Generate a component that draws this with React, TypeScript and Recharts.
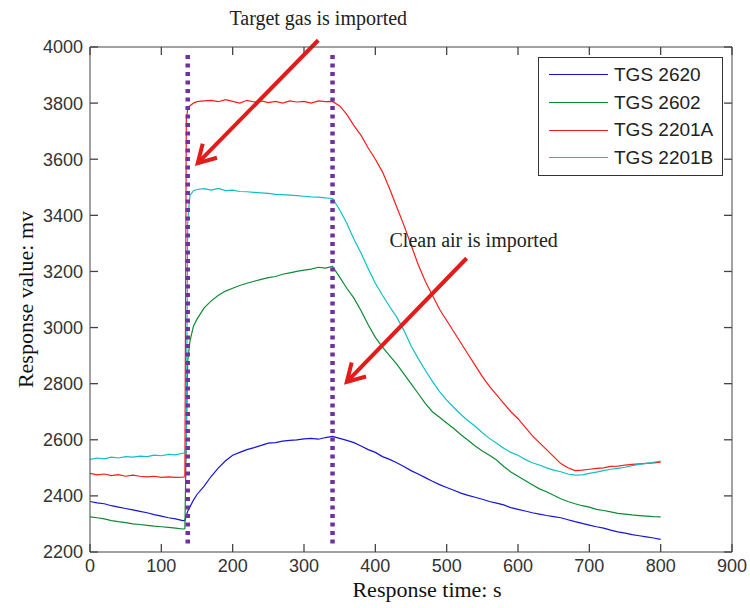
import { LineChart, Line, XAxis, YAxis, ReferenceLine } from "recharts";

// sampling times (s)
const times = [
  0, 10, 20, 30, 40, 50, 60, 70, 80, 90, 100, 110, 120, 130,
  133, 135, 137, 140, 145,
  150, 160, 170, 180, 190, 200, 210, 220, 230, 240,
  250, 260, 270, 280, 290, 300, 310, 320, 330, 340,
  350, 360, 370, 380, 390, 400, 410, 420, 430, 440,
  450, 460, 470, 480, 490, 500, 510, 520, 530, 540,
  550, 560, 570, 580, 590, 600, 610, 620, 630, 640,
  650, 660, 670, 680, 690, 700, 710, 720, 730, 740,
  750, 760, 770, 780, 790, 800,
];

// response values (mV)
const tgs2620 = [
  2380, 2375, 2372, 2365, 2360, 2355, 2350, 2345, 2340, 2333, 2328, 2322, 2318, 2312,
  2312, 2330, 2345, 2360, 2385,
  2405, 2435, 2470, 2500, 2525, 2545, 2555, 2565, 2572, 2580,
  2588, 2590, 2595, 2598, 2600, 2603, 2605, 2602, 2608, 2612,
  2605, 2598, 2590, 2578, 2565, 2555, 2540, 2530, 2518, 2505,
  2490, 2478, 2465, 2452, 2440, 2430, 2420, 2410, 2402, 2395,
  2388, 2380, 2374, 2368, 2358, 2352, 2346, 2340, 2335, 2330,
  2326, 2322, 2315, 2308, 2302, 2296, 2290, 2285, 2278, 2272,
  2267, 2262, 2258, 2254, 2250, 2245,
];

const tgs2602 = [
  2325, 2322, 2318, 2312, 2308, 2305, 2300, 2298, 2295, 2292, 2290, 2288, 2285, 2282,
  2283, 2600, 2880, 2950, 3005,
  3030, 3070, 3095, 3115, 3130, 3140, 3150, 3158, 3165, 3172,
  3178, 3182, 3190, 3195, 3200, 3205, 3208, 3215, 3212, 3218,
  3180, 3140, 3105, 3060, 3010, 2965, 2930, 2900, 2870, 2835,
  2800, 2765, 2730, 2700, 2680, 2660, 2640, 2618, 2598, 2578,
  2560, 2545, 2528, 2505, 2485, 2470, 2455, 2440, 2425, 2415,
  2402, 2390, 2380, 2372, 2365, 2360, 2352, 2348, 2343, 2338,
  2335, 2332, 2330, 2328, 2326, 2325,
];

const tgs2201A = [
  2480, 2475, 2478, 2472, 2476, 2470, 2474, 2470, 2468, 2470, 2466, 2468, 2466, 2467,
  2468, 3740, 3778, 3790, 3800,
  3805, 3808, 3810, 3805, 3812, 3806, 3800, 3810, 3804, 3808,
  3802, 3806, 3800, 3808, 3804, 3806, 3800, 3808, 3805, 3806,
  3790, 3760, 3720, 3685, 3640, 3600, 3555, 3495, 3430, 3365,
  3295, 3225, 3165, 3115, 3065, 3025, 2985, 2945, 2905, 2865,
  2825, 2790, 2760, 2730, 2700, 2675, 2645, 2615, 2590, 2565,
  2540, 2515, 2500, 2490, 2492, 2495, 2498, 2500, 2505, 2506,
  2510, 2512, 2514, 2516, 2518, 2520,
];

const tgs2201B = [
  2530, 2535, 2532, 2538, 2535, 2540, 2538, 2542, 2540, 2545, 2543, 2548, 2546, 2552,
  2553, 2600, 3380, 3470, 3488,
  3492, 3495, 3490, 3496, 3488, 3490, 3485, 3484, 3482, 3480,
  3478, 3475, 3474, 3472, 3470, 3468, 3466, 3465, 3462, 3460,
  3420, 3372, 3315, 3265, 3210, 3158, 3115, 3075, 3037, 2990,
  2935, 2890, 2848, 2808, 2772, 2741, 2715, 2690, 2668, 2648,
  2625, 2605, 2588, 2570, 2555, 2545, 2530, 2518, 2510, 2500,
  2492, 2486, 2478, 2474, 2475, 2480, 2485, 2490, 2495, 2498,
  2502, 2508, 2512, 2516, 2520, 2524,
];

const seriesNames = ["TGS 2620", "TGS 2602", "TGS 2201A", "TGS 2201B"];
const seriesValues = [tgs2620, tgs2602, tgs2201A, tgs2201B];
const seriesColors = ["#1414dc", "#0e8a34", "#ff1a1a", "#10bfc4"];

const xTicks = [0, 100, 200, 300, 400, 500, 600, 700, 800, 900];
const yTicks = [2200, 2400, 2600, 2800, 3000, 3200, 3400, 3600, 3800, 4000];

// gas switching moments (s) and the span of the dotted markers (mV)
const switchTimes = [137, 340];
const switchSpan = [2230, 3975];

// annotations: text, arrow tail and arrow head in data units
const noteTexts = ["Target gas is imported", "Clean air is imported"];
const noteFrom = [
  [320, 4024],
  [528, 3247],
];
const noteTo = [
  [151, 3586],
  [360, 2806],
];
const noteTextOffset = [
  [0, -15],
  [7, -11],
];

const tableData = times.map((t, i) => {
  const row: Record<string, number> = { t };
  seriesValues.forEach((vals, k) => {
    row[`s${k}`] = vals[i];
  });
  return row;
});

const sans = "'Liberation Sans', Arial, sans-serif";
const serif = "'Liberation Serif', 'Times New Roman', serif";
const axisColor = "#444";
const tickLen = 8;

// MATLAB-style inward ticks on both ends of each tick position
function HTicks(props: any) {
  const { x1, y1, x2, y2 } = props;
  return (
    <g>
      <line x1={x1} x2={x1 + tickLen} y1={y1} y2={y1} stroke={axisColor} strokeWidth={1.3} />
      <line x1={x2} x2={x2 - tickLen} y1={y2} y2={y2} stroke={axisColor} strokeWidth={1.3} />
    </g>
  );
}

function VTicks(props: any) {
  const { x1, y1, x2, y2 } = props;
  const top = Math.min(y1, y2);
  const bottom = Math.max(y1, y2);
  return (
    <g>
      <line x1={x1} x2={x1} y1={top} y2={top + tickLen} stroke={axisColor} strokeWidth={1.3} />
      <line x1={x2} x2={x2} y1={bottom} y2={bottom - tickLen} stroke={axisColor} strokeWidth={1.3} />
    </g>
  );
}

function makeArrow(idx: number) {
  return (props: any) => {
    const { x1, y1, x2, y2 } = props;
    const len = Math.hypot(x2 - x1, y2 - y1) || 1;
    const bx = (x1 - x2) / len;
    const by = (y1 - y2) / len;
    const a = Math.PI / 6;
    const head = 20;
    const p1x = x2 + head * (bx * Math.cos(a) - by * Math.sin(a));
    const p1y = y2 + head * (bx * Math.sin(a) + by * Math.cos(a));
    const p2x = x2 + head * (bx * Math.cos(-a) - by * Math.sin(-a));
    const p2y = y2 + head * (bx * Math.sin(-a) + by * Math.cos(-a));
    return (
      <g>
        <line x1={x1} y1={y1} x2={x2} y2={y2} stroke="#e31b1b" strokeWidth={4} />
        <polyline
          points={`${p1x},${p1y} ${x2},${y2} ${p2x},${p2y}`}
          fill="none"
          stroke="#e31b1b"
          strokeWidth={4}
        />
        <text
          x={x1 + noteTextOffset[idx][0]}
          y={y1 + noteTextOffset[idx][1]}
          textAnchor="middle"
          fontFamily={serif}
          fontSize={20}
          fill="#222"
        >
          {noteTexts[idx]}
        </text>
      </g>
    );
  };
}

function LegendBox() {
  return (
    <div
      style={{
        position: "absolute",
        left: 538,
        top: 57,
        width: 183,
        height: 114,
        border: "1.5px solid #333",
        background: "#fff",
        paddingTop: 3,
      }}
    >
      {seriesNames.map((name, k) => (
        <div
          key={name}
          style={{ display: "flex", alignItems: "center", height: 27.7 }}
        >
          <div
            style={{
              width: 59,
              height: 0,
              borderTop: `1.5px solid ${seriesColors[k]}`,
              marginLeft: 10,
              marginRight: 6,
            }}
          />
          <span style={{ fontFamily: sans, fontSize: 19, color: "#222" }}>
            {name}
          </span>
        </div>
      ))}
    </div>
  );
}

function YLabel(props: any) {
  const { viewBox } = props;
  const cx = viewBox.x + 25;
  const cy = viewBox.y + viewBox.height / 2;
  return (
    <text
      x={cx}
      y={cy}
      transform={`rotate(-90, ${cx}, ${cy})`}
      textAnchor="middle"
      dominantBaseline="central"
      fontFamily={serif}
      fontSize={22}
      fill="#111"
    >
      Response value: mv
    </text>
  );
}

function XLabel(props: any) {
  const { viewBox } = props;
  return (
    <text
      x={viewBox.x + viewBox.width / 2 + 16}
      y={viewBox.y + 45}
      textAnchor="middle"
      fontFamily={serif}
      fontSize={22}
      fill="#111"
    >
      Response time: s
    </text>
  );
}

export default function App() {
  return (
    <div
      style={{
        position: "absolute",
        left: 0,
        top: 0,
        width: 750,
        height: 608,
        background: "#fff",
      }}
    >
      <LineChart
        width={750}
        height={608}
        data={tableData}
        margin={{ top: 46, right: 17, bottom: 0, left: 0 }}
      >
        <XAxis
          dataKey="t"
          type="number"
          domain={[0, 900]}
          ticks={xTicks}
          allowDataOverflow
          height={56}
          stroke={axisColor}
          tickSize={0}
          tickMargin={7}
          tickLine={false}
          tick={{ fill: "#333", fontSize: 18, fontFamily: sans }}
          label={<XLabel />}
        />
        <XAxis
          xAxisId="top"
          orientation="top"
          dataKey="t"
          type="number"
          domain={[0, 900]}
          height={1}
          stroke={axisColor}
          tickLine={false}
          tick={false}
        />
        <YAxis
          type="number"
          domain={[2200, 4000]}
          ticks={yTicks}
          allowDataOverflow
          width={90}
          stroke={axisColor}
          tickSize={0}
          tickMargin={7}
          tickLine={false}
          tick={{ fill: "#333", fontSize: 18, fontFamily: sans }}
          label={<YLabel />}
        />
        <YAxis
          yAxisId="right"
          orientation="right"
          type="number"
          domain={[2200, 4000]}
          width={1}
          stroke={axisColor}
          tickLine={false}
          tick={false}
        />
        {yTicks.map((v) => (
          <ReferenceLine key={`yt${v}`} y={v} shape={HTicks} ifOverflow="visible" />
        ))}
        {xTicks.map((v) => (
          <ReferenceLine key={`xt${v}`} x={v} shape={VTicks} ifOverflow="visible" />
        ))}
        {seriesNames.map((name, k) => (
          <Line
            key={name}
            name={name}
            dataKey={`s${k}`}
            stroke={seriesColors[k]}
            strokeWidth={1.2}
            dot={false}
            type="linear"
            isAnimationActive={false}
          />
        ))}
        {switchTimes.map((t) => (
          <ReferenceLine
            key={`sw${t}`}
            segment={[
              { x: t, y: switchSpan[0] },
              { x: t, y: switchSpan[1] },
            ]}
            stroke="#7030a0"
            strokeWidth={4.5}
            strokeDasharray="4 4.5"
            ifOverflow="visible"
          />
        ))}
        {noteTexts.map((txt, i) => (
          <ReferenceLine
            key={txt}
            segment={[
              { x: noteFrom[i][0], y: noteFrom[i][1] },
              { x: noteTo[i][0], y: noteTo[i][1] },
            ]}
            ifOverflow="visible"
            shape={makeArrow(i)}
          />
        ))}
      </LineChart>
      <LegendBox />
    </div>
  );
}
